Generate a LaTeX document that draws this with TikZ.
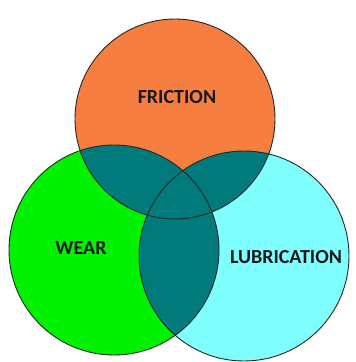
\documentclass[tikz,border=0pt]{standalone}
\usepackage{fontspec}
\setmainfont{Carlito}
\definecolor{frictionorange}{RGB}{246,126,64}
\definecolor{weargreen}{RGB}{0,242,0}
\definecolor{lubcyan}{RGB}{128,255,255}
\definecolor{overlapteal}{RGB}{0,122,122}

\begin{document}
\begin{tikzpicture}[x=1pt,y=1pt,
  ring/.style={draw=black!85,line width=0.9pt},
  label/.style={font=\bfseries\fontsize{20}{24}\selectfont,text=black!90},
]
\useasboundingbox (0,0) rectangle (356,362);
\def\fricpath{(175,243) circle (100)}
\def\wearpath{(114,112) circle (105)}
\def\lubpath{(244,106) circle (105)}

% the three sets
\fill[frictionorange] \fricpath;
\fill[weargreen] \wearpath;
\fill[lubcyan] \lubpath;

% pairwise overlaps
\begin{scope}
  \clip \fricpath;
  \fill[overlapteal] \wearpath;
  \fill[overlapteal] \lubpath;
\end{scope}
\begin{scope}
  \clip \wearpath;
  \fill[overlapteal] \lubpath;
\end{scope}

\draw[ring] \fricpath;
\draw[ring] \wearpath;
\draw[ring] \lubpath;

\node[label] (friction) at (177,265) {FRICTION};
\node[label] (wear) at (81,114) {WEAR};
\node[label] (lubrication) at (286,105) {LUBRICATION};

\end{tikzpicture}
\end{document}
